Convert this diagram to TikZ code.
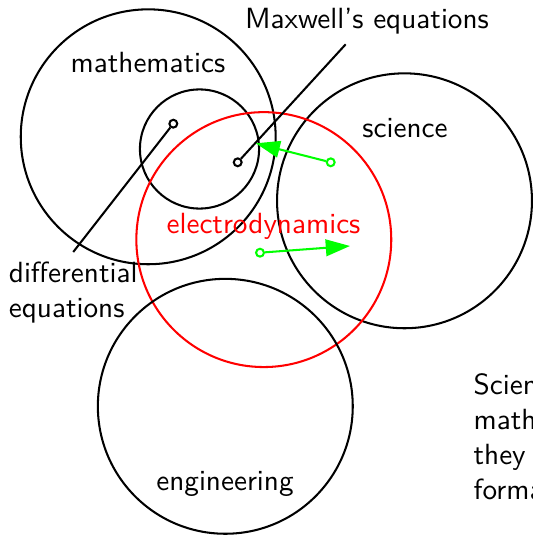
\documentclass[tikz,border=0pt]{standalone}
\usetikzlibrary{arrows.meta}
\begin{document}
\begin{tikzpicture}[x=0.3425pt,y=-0.3425pt,
  font=\sffamily,
  region/.style={draw, circle, line width=0.7pt, minimum size=87.3pt, inner sep=0pt},
  innerregion/.style={draw, circle, line width=0.7pt, minimum size=40.8pt, inner sep=0pt},
  dotmark/.style={draw, circle, line width=0.7pt, minimum size=2.7pt, inner sep=0pt},
  lbl/.style={anchor=base},
  link/.style={line width=0.7pt},
  garrow/.style={green, line width=0.7pt, -{Triangle[length=8.3pt,width=5.7pt]}}]
\useasboundingbox (0,0) rectangle (532,535);
% regions
\node[region] (math) at (148.2,136.8) {};
\node[innerregion] (maxc) at (199.5,149) {};
\node[region] (sci) at (404.5,200.8) {};
\node[region, red] (ed) at (263.8,239.6) {};
\node[region] (eng) at (225.3,406.3) {};
% labels
\node[lbl] (mathl) at (148,72.7) {mathematics};
\node[lbl] (scil) at (405,137.7) {science};
\node[lbl, text=red] (edl) at (263.5,233.3) {electrodynamics};
\node[lbl] (engl) at (225,490.7) {engineering};
\node[lbl] (maxl) at (367,28.3) {Maxwell's equations};
\node[anchor=north west, align=left] (diff) at (-1.4,252) {differential\\equations};
\node[anchor=north west, align=left] (note) at (463.3,363) {Science\\mathematics\\they\\formal};
% markers
\node[dotmark] (d1) at (237.7,162.3) {};
\node[dotmark] (d2) at (173.3,123.7) {};
\node[dotmark, green] (g1) at (330.7,162.3) {};
\node[dotmark, green] (g2) at (260,252.7) {};
\coordinate (t1) at (255.7,143.3);
\coordinate (t2) at (350,246);
% connectors
\draw[link] (d1) -- (maxl);
\draw[link] (d2) -- (diff.north);
\draw[garrow] (g1) -- (t1);
\draw[garrow] (g2) -- (t2);
\end{tikzpicture}
\end{document}
